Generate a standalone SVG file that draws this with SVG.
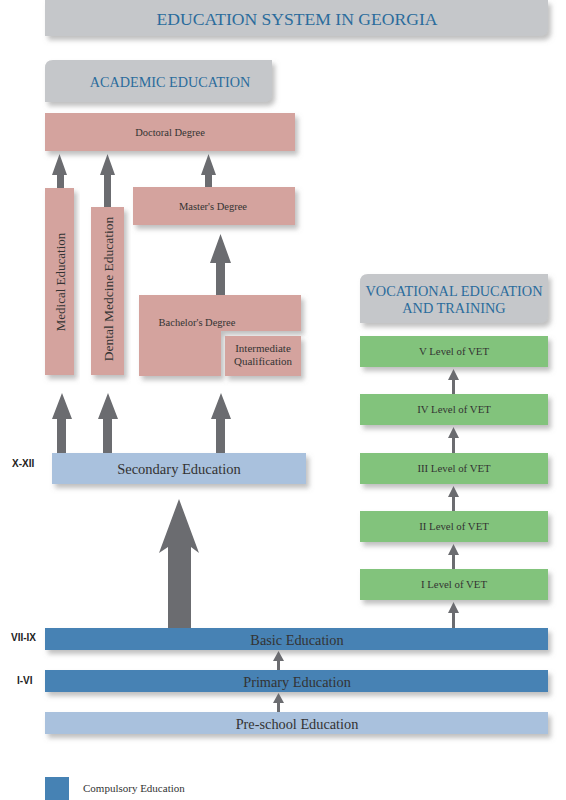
<svg xmlns="http://www.w3.org/2000/svg" width="566" height="800" viewBox="0 0 566 800">
<defs>
<filter id="sh" x="-10%" y="-30%" width="130%" height="180%">
<feDropShadow dx="3" dy="4" stdDeviation="2.5" flood-color="#8a8a8a" flood-opacity="0.55"/>
</filter>
<style>
.hdr{fill:#c5c7ca;filter:url(#sh)}
.pk{fill:#d4a39e;filter:url(#sh)}
.gr{fill:#82c37b;filter:url(#sh)}
.lb{fill:#a9c1dd;filter:url(#sh)}
.db{fill:#4682b4;filter:url(#sh)}
.ht{font-family:"Liberation Serif","DejaVu Serif",serif;fill:#2b6c9c;text-anchor:middle}
.t{font-family:"Liberation Serif","DejaVu Serif",serif;fill:#333;text-anchor:middle}
.lv{font-family:"Liberation Sans",Arial,sans-serif;font-weight:bold;font-size:10px;fill:#222}
.ar{fill:#6b6c70}
</style>
</defs>
<rect width="566" height="800" fill="#fff"/>

<g id="title">
<path class="hdr" d="M45 0 H548 V28 Q548 36 540 36 H45 Z"/>
<text class="ht" x="297" y="25" font-size="17.6">EDUCATION SYSTEM IN GEORGIA</text>
</g>

<g id="academic">
<path class="hdr" d="M53 60 H272 V94 Q272 102 264 102 H45 V68 Q45 60 53 60 Z"/>
<text class="ht" x="170" y="87" font-size="14.2">ACADEMIC EDUCATION</text>
</g>

<g id="doctoral">
<rect class="pk" x="45" y="113" width="250" height="38"/>
<text class="t" x="170" y="136" font-size="10.5">Doctoral Degree</text>
</g>

<g id="medical">
<rect class="pk" x="45" y="188" width="29" height="187"/>
<text class="t" x="0" y="0" font-size="13" transform="translate(64.5 282) rotate(-90)">Medical Education</text>
</g>

<g id="dental">
<rect class="pk" x="91" y="207" width="33" height="168"/>
<text class="t" x="0" y="0" font-size="13.5" transform="translate(112.5 289) rotate(-90)">Dental Medcine Education</text>
</g>

<g id="masters">
<rect class="pk" x="133" y="187" width="162" height="38"/>
<text class="t" x="213" y="210" font-size="10.5">Master's Degree</text>
</g>

<g id="bachelors">
<path class="pk" d="M139 295 H301 V331 H221 V376 H139 Z"/>
<text class="t" x="197" y="326" font-size="10.5">Bachelor's Degree</text>
</g>

<g id="intermediate">
<rect class="pk" x="225" y="336" width="76" height="40"/>
<text class="t" x="263" y="352" font-size="11">Intermediate</text>
<text class="t" x="263" y="365" font-size="11">Qualification</text>
</g>

<g id="secondary">
<rect class="lb" x="52" y="453" width="254" height="31"/>
<text class="t" x="179" y="474" font-size="14.5">Secondary Education</text>
</g>

<g id="vet-header">
<path class="hdr" d="M368 274 H548 V315 Q548 323 540 323 H360 V282 Q360 274 368 274 Z"/>
<text class="ht" x="454" y="296" font-size="14.3">VOCATIONAL EDUCATION</text>
<text class="ht" x="454" y="313" font-size="14.3">AND TRAINING</text>
</g>

<g id="vet5"><rect class="gr" x="360" y="336" width="188" height="31"/><text class="t" x="454" y="355" font-size="10.8">V Level of VET</text></g>
<g id="vet4"><rect class="gr" x="360" y="394" width="188" height="31"/><text class="t" x="454" y="413" font-size="10.8">IV Level of VET</text></g>
<g id="vet3"><rect class="gr" x="360" y="453" width="188" height="31"/><text class="t" x="454" y="472" font-size="10.8">III Level of VET</text></g>
<g id="vet2"><rect class="gr" x="360" y="511" width="188" height="31"/><text class="t" x="454" y="530" font-size="10.8">II Level of VET</text></g>
<g id="vet1"><rect class="gr" x="360" y="569" width="188" height="31"/><text class="t" x="454" y="588" font-size="10.8">I Level of VET</text></g>

<g id="basic">
<rect class="db" x="45" y="628" width="503" height="22"/>
<text class="t" x="297" y="644.5" font-size="14.3">Basic Education</text>
</g>
<g id="primary">
<rect class="db" x="45" y="670" width="503" height="22"/>
<text class="t" x="297" y="686.5" font-size="14.3">Primary Education</text>
</g>
<g id="preschool">
<rect class="lb" x="45" y="712" width="503" height="22"/>
<text class="t" x="297" y="728.5" font-size="14.3">Pre-school Education</text>
</g>

<g id="grade-labels">
<text class="lv" x="12" y="467">X-XII</text>
<text class="lv" x="11" y="641">VII-IX</text>
<text class="lv" x="17" y="684">I-VI</text>
</g>

<g id="legend">
<rect x="45" y="777" width="24" height="23" fill="#4682b4"/>
<text x="83" y="792" font-size="11" font-family="'Liberation Serif','DejaVu Serif',serif" fill="#333">Compulsory Education</text>
</g>

<g id="connectors">
<path class="ar" d="M57 188 V175 H52 L59.5 154 L67 175 H64 V188 Z"/>
<path class="ar" d="M104 207 V175 H100 L107.5 154 L115 175 H111 V207 Z"/>
<path class="ar" d="M205 187 V175 H201 L208.5 154 L216 175 H212 V187 Z"/>
<path class="ar" d="M216 295 V263 H210 L220.5 234 L231 263 H225 V295 Z"/>
<path class="ar" d="M57 453 V419 H52 L62 393 L72 419 H66 V453 Z"/>
<path class="ar" d="M103 453 V419 H98 L108 393 L118 419 H112 V453 Z"/>
<path class="ar" d="M216 453 V419 H211 L221 393 L231 419 H225 V453 Z"/>
<path class="ar" d="M168 628 V547 L159 553 L179 499 L199 553 L191 547 V628 Z"/>
<path class="ar" d="M452 628 V613 H448 L453.5 602 L459 613 H455 V628 Z"/>
<path class="ar" d="M452 569 V555 H448 L453.5 544 L459 555 H455 V569 Z"/>
<path class="ar" d="M452 511 V497 H448 L453.5 486 L459 497 H455 V511 Z"/>
<path class="ar" d="M452 453 V438 H448 L453.5 427 L459 438 H455 V453 Z"/>
<path class="ar" d="M452 394 V380 H448 L453.5 369 L459 380 H455 V394 Z"/>
<path class="ar" d="M277 712 V703 H273 L278.5 693 L284 703 H280 V712 Z"/>
<path class="ar" d="M277 670 V661 H273 L278.5 651 L284 661 H280 V670 Z"/>
</g>
</svg>
